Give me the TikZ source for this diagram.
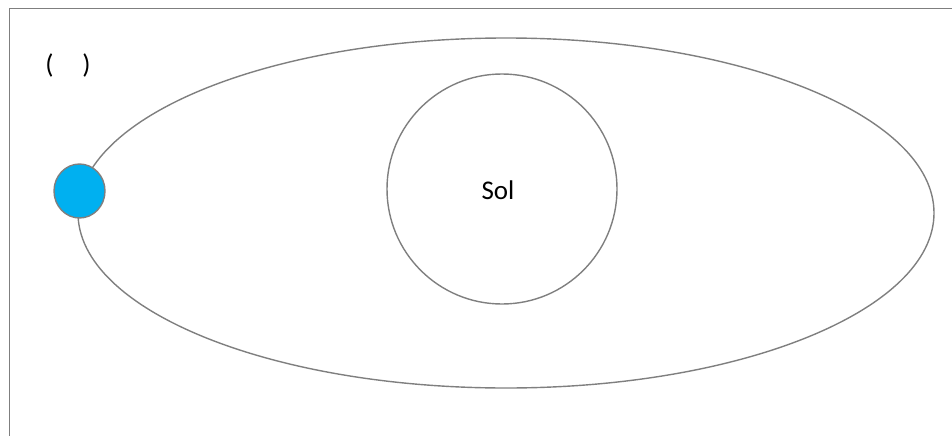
\documentclass[tikz,border=0pt]{standalone}
\usepackage{fontspec}
\setmainfont{Carlito}
\usetikzlibrary{shapes.geometric}
\definecolor{linegray}{HTML}{7F7F7F}
\definecolor{planetblue}{HTML}{00B0F0}
\tikzset{
  frameline/.style={draw=linegray, line width=1.6pt},
  orbitline/.style={draw=linegray, line width=1.4pt},
  lbl/.style={font=\fontsize{27}{32}\selectfont, inner sep=0pt, text=black}
}
\begin{document}
\begin{tikzpicture}[x=1pt,y=-1pt]
\useasboundingbox (0,0) rectangle (952,436);
% frame (top and left edges)
\coordinate (ftr) at (952,8.5);
\coordinate (ftl) at (9.5,8.5);
\coordinate (fbl) at (9.5,436);
\draw[frameline] (ftr) -- (ftl) -- (fbl);
% orbit
\node[orbitline, ellipse, minimum width=856pt, minimum height=350pt, inner sep=0pt] (orbit) at (506,213) {};
% sun
\node[orbitline, circle, minimum size=230pt, inner sep=0pt] (sun) at (502,189) {};
\node[lbl] (sol) at (498,190) {Sol};
% planet
\node[draw=linegray, line width=1.4pt, fill=planetblue, ellipse, minimum width=51pt, minimum height=54pt, inner sep=0pt] (planet) at (79.5,191) {};
% label
\node[lbl] (paren) at (68,65) {(\hspace{29pt})};
\end{tikzpicture}
\end{document}
